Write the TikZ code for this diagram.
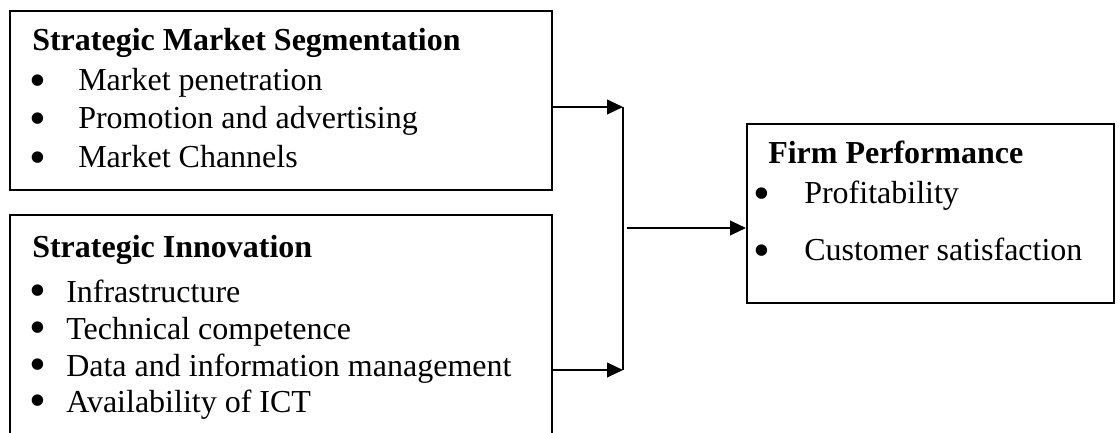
\documentclass[tikz,border=0pt]{standalone}
\usepackage{fontspec}
\setmainfont{Liberation Serif}
\usetikzlibrary{arrows.meta}
\begin{document}
\begin{tikzpicture}[x=0.75pt,y=-0.75pt,
  box/.style={draw=black, line width=1.5pt, rectangle, inner sep=0pt, fill=none},
  ttl/.style={anchor=base west, inner sep=0pt, font=\fontsize{24}{29}\selectfont\bfseries},
  itm/.style={anchor=base west, inner sep=0pt, font=\fontsize{24}{29}\selectfont},
  bul/.style={anchor=base, inner sep=0pt, font=\fontsize{36}{38}\selectfont},
  conn/.style={draw=black, line width=1.5pt},
  arr/.style={conn, -{Triangle[length=12pt,width=11pt]}}]
\useasboundingbox (0,0) rectangle (1120,432);
\clip (0,0) rectangle (1120,432);
% boxes
\node[box, minimum width=406.5pt, minimum height=134.25pt] (b1) at (281,100.5) {};
\node[box, minimum width=406.5pt, minimum height=176.25pt] (b2) at (281,332.5) {};
\node[box, minimum width=275.25pt, minimum height=134.25pt] (b3) at (930.5,213.5) {};
% box 1 text
\node[ttl] (t1) at (32,50) {Strategic Market Segmentation};
\node[bul] (t1b1) at (38,96) {•};
\node[itm] (t1i1) at (78,90) {Market penetration};
\node[bul] (t1b2) at (38,134.5) {•};
\node[itm] (t1i2) at (78,128.5) {Promotion and advertising};
\node[bul] (t1b3) at (38,173) {•};
\node[itm] (t1i3) at (78,167) {Market Channels};
% box 2 text
\node[ttl] (t2) at (32,257) {Strategic Innovation};
\node[bul] (t2b1) at (38,306) {•};
\node[itm] (t2i1) at (66,302) {Infrastructure};
\node[bul] (t2b2) at (38,343) {•};
\node[itm] (t2i2) at (66,339) {Technical competence};
\node[bul] (t2b3) at (38,380) {•};
\node[itm] (t2i3) at (66,376) {Data and information management};
\node[bul] (t2b4) at (38,416) {•};
\node[itm] (t2i4) at (66,412) {Availability of ICT};
% box 3 text
\node[ttl] (t3) at (768,163) {Firm Performance};
\node[bul] (t3b1) at (762,209) {•};
\node[itm] (t3i1) at (804,203) {Profitability};
\node[bul] (t3b2) at (762,266) {•};
\node[itm] (t3i2) at (804,260) {Customer satisfaction};
% connectors
\coordinate (j1) at (623,107);
\coordinate (j2) at (623,370);
\coordinate (m) at (627,228);
\draw[arr] (b1.east |- j1) -- (j1);
\draw[arr] (b2.east |- j2) -- (j2);
\draw[conn] (j1) -- (j2);
\draw[arr] (m) -- (m -| b3.west);
\end{tikzpicture}
\end{document}
